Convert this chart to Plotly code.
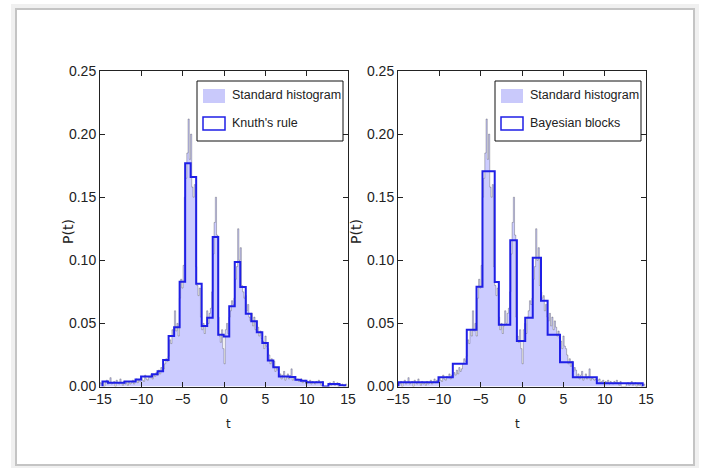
import plotly.graph_objects as go

W, H = 701, 468

# ---------------- data ----------------
# fine "standard histogram": 200 equal-width bins starting at fine_start
fine_start = -15.0
fine_width = 0.15
fine_vals = [
    0.003, 0.002, 0.004, 0.000, 0.003, 0.005, 0.002, 0.003, 0.007, 0.002,
    0.003, 0.004, 0.000, 0.005, 0.003, 0.002, 0.006, 0.003, 0.001, 0.004,
    0.002, 0.003, 0.001, 0.004, 0.002, 0.003, 0.005, 0.002, 0.004, 0.006,
    0.003, 0.005, 0.004, 0.007, 0.005, 0.004, 0.009, 0.006, 0.005, 0.008,
    0.007, 0.010, 0.006, 0.009, 0.008, 0.011, 0.009, 0.013, 0.010, 0.015,
    0.012, 0.014, 0.018, 0.022, 0.020, 0.024, 0.037, 0.034, 0.045, 0.040,
    0.060, 0.044, 0.050, 0.040, 0.070, 0.085, 0.078, 0.096, 0.150, 0.165,
    0.185, 0.212, 0.180, 0.200, 0.158, 0.150, 0.160, 0.095, 0.080, 0.072,
    0.078, 0.055, 0.045, 0.050, 0.042, 0.048, 0.060, 0.050, 0.058, 0.062,
    0.075, 0.105, 0.130, 0.150, 0.120, 0.055, 0.040, 0.035, 0.045, 0.030,
    0.018, 0.045, 0.050, 0.042, 0.055, 0.060, 0.068, 0.065, 0.070, 0.085,
    0.095, 0.125, 0.100, 0.110, 0.080, 0.075, 0.070, 0.072, 0.060, 0.065,
    0.055, 0.052, 0.058, 0.048, 0.055, 0.045, 0.052, 0.047, 0.040, 0.044,
    0.038, 0.036, 0.030, 0.040, 0.032, 0.030, 0.025, 0.018, 0.022, 0.016,
    0.020, 0.012, 0.015, 0.013, 0.008, 0.010, 0.006, 0.009, 0.012, 0.005,
    0.007, 0.010, 0.006, 0.008, 0.014, 0.005, 0.007, 0.006, 0.005, 0.006,
    0.004, 0.005, 0.006, 0.003, 0.004, 0.005, 0.002, 0.004, 0.003, 0.005,
    0.002, 0.004, 0.003, 0.002, 0.004, 0.003, 0.005, 0.003, 0.001, 0.004,
    0.000, 0.000, 0.000, 0.000, 0.002, 0.003, 0.001, 0.002, 0.004, 0.001,
    0.002, 0.003, 0.000, 0.002, 0.001, 0.002, 0.000, 0.001, 0.002, 0.000,
]

# Knuth's rule: 44 equal-width bins
knuth_start = -14.70
knuth_width = 0.6667
knuth_vals = [
    0.004, 0.003, 0.003, 0.003, 0.004, 0.004, 0.0056, 0.008, 0.008, 0.0098,
    0.012, 0.021, 0.040, 0.047, 0.083, 0.177, 0.166, 0.0815, 0.048, 0.0545,
    0.1185, 0.041, 0.0397, 0.0635, 0.0987, 0.0788, 0.0577, 0.0518, 0.043, 0.0344,
    0.0206, 0.0153, 0.008, 0.008, 0.0075, 0.0053, 0.0045, 0.0034, 0.0034, 0.0034,
    0.0, 0.002, 0.002, 0.001,
]

# Bayesian blocks: variable-width blocks
bb_edges = [-14.95, -10.1, -8.37, -6.68, -5.5, -4.78, -3.3, -2.8, -1.42,
            -0.62, 0.39, 1.3, 2.3, 3.1, 4.6, 6.15, 9.05, 14.6]
bb_vals = [0.0034, 0.0074, 0.018, 0.045, 0.079, 0.1706, 0.0828, 0.049,
           0.1159, 0.036, 0.0545, 0.102, 0.068, 0.041, 0.0193, 0.0074, 0.0026]

x_ticks = [-15, -10, -5, 0, 5, 10, 15]
x_tick_labels = ["\u221215", "\u221210", "\u22125", "0", "5", "10", "15"]
y_ticks = [0.0, 0.05, 0.10, 0.15, 0.20, 0.25]
y_tick_labels = ["0.00", "0.05", "0.10", "0.15", "0.20", "0.25"]

label_fine = "Standard histogram"
label_left = "Knuth's rule"
label_right = "Bayesian blocks"
x_title = "t"
y_title = "P(t)"

# ---------------- styling ----------------
SANS = "Liberation Sans, Arial, sans-serif"
PLAIN = "DejaVu Sans, sans-serif"
FILL = "rgba(0,0,255,0.2)"
EDGE = "rgba(0,0,0,0.25)"
BLUE = "#1f1fe6"


def px(x):
    return x / W


def py(y):
    return 1 - y / H


def step_xy(edges, vals):
    xs = [edges[0]]
    ys = [0.0]
    for i, v in enumerate(vals):
        xs.append(edges[i])
        ys.append(v)
    xs.append(edges[len(vals)])
    ys.append(vals[-1])
    xs.append(edges[len(vals)])
    ys.append(0.0)
    return xs, ys


fine_edges = [fine_start + fine_width * i for i in range(len(fine_vals) + 1)]
knuth_edges = [knuth_start + knuth_width * i for i in range(len(knuth_vals) + 1)]

fig = go.Figure()

panels = [
    ("x", "y", knuth_edges, knuth_vals, label_left, 100, 348),
    ("x2", "y2", bb_edges, bb_vals, label_right, 398, 646),
]

fx, fy = step_xy(fine_edges, fine_vals)
for xa, ya, edges, vals, lab, _, _ in panels:
    fig.add_trace(go.Scatter(x=fx, y=fy, xaxis=xa, yaxis=ya, mode="lines",
                             line=dict(shape="hv", color=EDGE, width=1),
                             fill="tozeroy", fillcolor=FILL, showlegend=False,
                             hoverinfo="skip"))
    sx, sy = step_xy(edges, vals)
    fig.add_trace(go.Scatter(x=sx, y=sy, xaxis=xa, yaxis=ya, mode="lines",
                             line=dict(shape="hv", color=BLUE, width=2),
                             showlegend=False, hoverinfo="skip"))

TOP, BOT = 71, 386.5

axis_common = dict(showline=True, linecolor="#222", linewidth=1, mirror="ticks",
                   ticks="inside", ticklen=5, tickwidth=1, tickcolor="#222",
                   showgrid=False, zeroline=False,
                   tickfont=dict(family=SANS, size=14, color="#222"))

layout = dict(width=W, height=H, margin=dict(l=0, r=0, t=0, b=0),
              paper_bgcolor="white", plot_bgcolor="white", showlegend=False)

shapes = []
annotations = []

for idx, (xa, ya, edges, vals, lab, x0, x1) in enumerate(panels):
    xkey = "xaxis" if idx == 0 else "xaxis2"
    ykey = "yaxis" if idx == 0 else "yaxis2"
    layout[xkey] = dict(axis_common, domain=[px(x0), px(x1)], range=[-15, 15],
                        tickvals=x_ticks, ticktext=x_tick_labels, anchor=ya,
                        automargin=False)
    layout[ykey] = dict(axis_common, domain=[py(BOT), py(TOP)], range=[0, 0.25],
                        tickvals=y_ticks, ticktext=y_tick_labels, anchor=xa,
                        automargin=False)
    # axis titles
    annotations.append(dict(x=px((x0 + x1) / 2), y=py(424), xref="paper", yref="paper",
                            yanchor="middle", text=x_title, showarrow=False,
                            font=dict(family=PLAIN, size=12, color="#222")))
    annotations.append(dict(x=px(x0 - 42), y=py(232), xref="paper", yref="paper",
                            text=y_title, textangle=-90, showarrow=False,
                            font=dict(family=PLAIN, size=14, color="#222")))
    # legend box
    lx0 = x1 - 151
    lx1 = x1 - 5
    shapes.append(dict(type="rect", xref="paper", yref="paper",
                       x0=px(lx0), x1=px(lx1), y0=py(141), y1=py(81),
                       line=dict(color="#111", width=1), fillcolor="white"))
    shapes.append(dict(type="rect", xref="paper", yref="paper",
                       x0=px(lx0 + 6), x1=px(lx0 + 28), y0=py(103), y1=py(89),
                       line=dict(color="rgba(0,0,0,0)", width=0), fillcolor="#c9c9fb"))
    shapes.append(dict(type="rect", xref="paper", yref="paper",
                       x0=px(lx0 + 6), x1=px(lx0 + 28), y0=py(130), y1=py(117),
                       line=dict(color=BLUE, width=1.5), fillcolor="white"))
    annotations.append(dict(x=px(lx0 + 33), y=py(95.5), xref="paper", yref="paper",
                            xanchor="left", yanchor="middle", text=label_fine,
                            showarrow=False, font=dict(family=SANS, size=12.5, color="#222")))
    annotations.append(dict(x=px(lx0 + 33), y=py(123.5), xref="paper", yref="paper",
                            xanchor="left", yanchor="middle", text=lab,
                            showarrow=False, font=dict(family=SANS, size=12.5, color="#222")))

# outer frame with soft shadow
shapes.insert(0, dict(type="rect", xref="paper", yref="paper", layer="below",
                      x0=px(14), x1=px(696), y0=py(467), y1=py(7),
                      line=dict(color="rgba(0,0,0,0.06)", width=6)))
shapes.insert(1, dict(type="rect", xref="paper", yref="paper", layer="below",
                      x0=px(16), x1=px(694), y0=py(465), y1=py(9),
                      line=dict(color="#c4c4c4", width=2)))

layout["shapes"] = shapes
layout["annotations"] = annotations
fig.update_layout(**layout)

fig.write_html("out.html", config={"displayModeBar": False},
               post_script="document.body.style.margin='0';document.body.style.padding='0';")
